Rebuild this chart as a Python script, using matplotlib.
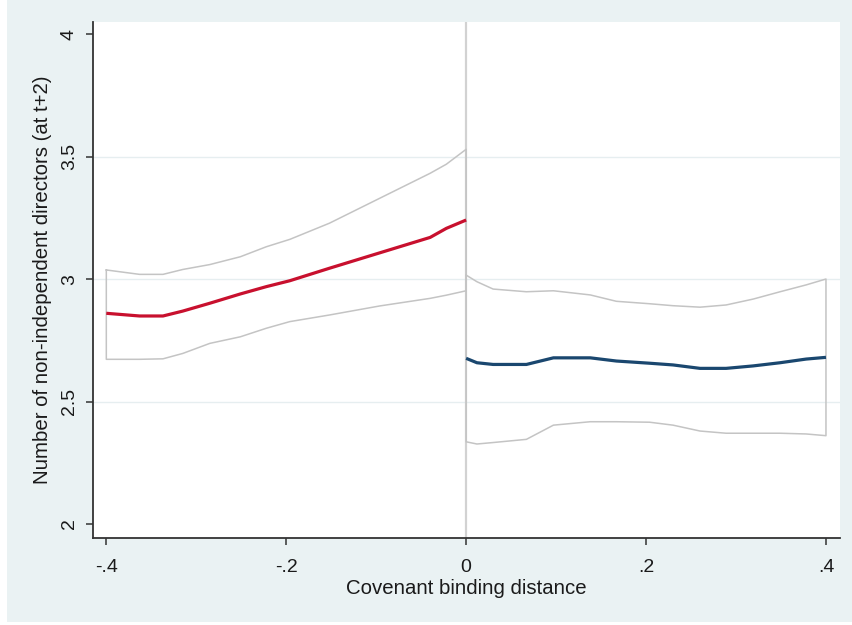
import matplotlib
matplotlib.use("Agg")
import matplotlib.pyplot as plt
from matplotlib.patches import Rectangle

plt.rcParams['font.family'] = ['Liberation Sans', 'DejaVu Sans']

# Left of cutoff: local fit with 95% band
left_x = [-0.4, -0.363, -0.337, -0.315, -0.285, -0.251, -0.222, -0.196,
          -0.152, -0.096, -0.040, -0.022, 0.0]
left_fit = [2.861, 2.850, 2.850, 2.870, 2.902, 2.940, 2.970, 2.994,
            3.045, 3.108, 3.171, 3.208, 3.242]
left_hi = [3.038, 3.020, 3.020, 3.040, 3.060, 3.092, 3.133, 3.163,
           3.229, 3.331, 3.433, 3.470, 3.531]
left_lo = [2.673, 2.673, 2.675, 2.697, 2.738, 2.765, 2.800, 2.827,
           2.854, 2.891, 2.922, 2.935, 2.953]

# Right of cutoff
right_x = [0.0, 0.012, 0.030, 0.067, 0.097, 0.138, 0.167, 0.204,
           0.230, 0.260, 0.289, 0.319, 0.349, 0.378, 0.4]
right_fit = [2.677, 2.659, 2.652, 2.652, 2.679, 2.679, 2.666, 2.657,
             2.650, 2.636, 2.636, 2.646, 2.659, 2.674, 2.681]
right_hi = [3.017, 2.990, 2.960, 2.949, 2.953, 2.936, 2.910, 2.900,
            2.892, 2.886, 2.895, 2.919, 2.949, 2.977, 3.001]
right_lo = [2.336, 2.327, 2.333, 2.346, 2.404, 2.418, 2.418, 2.416,
            2.404, 2.380, 2.371, 2.371, 2.371, 2.368, 2.361]

x_ticks = [-0.4, -0.2, 0.0, 0.2, 0.4]
x_labels = ['-.4', '-.2', '0', '.2', '.4']
y_ticks = [2, 2.5, 3, 3.5, 4]
y_labels = ['2', '2.5', '3', '3.5', '4']

bg = '#EAF2F3'
band_col = '#C4C4C4'

fig = plt.figure(figsize=(8.53, 6.25), dpi=100, facecolor='white')
fig.patches.append(Rectangle((7 / 853, 3 / 625), 846 / 853, 622 / 625,
                             transform=fig.transFigure, facecolor=bg,
                             edgecolor='none', zorder=-5))

ax = fig.add_axes([93 / 853, 1 - 538 / 625, 747 / 853, 516 / 625])
ax.set_zorder(1)
ax.set_facecolor('white')

ax.set_xlim(-0.4148, 0.4156)
ax.set_ylim(1.943, 4.051)

for yv in [2.5, 3, 3.5]:
    ax.axhline(yv, color='#E6EEF0', lw=1.0, zorder=1)
ax.axvline(0, color='#D2D2D2', lw=1.6, zorder=2)

def band(xs, lo, hi):
    px = list(xs) + list(xs[::-1]) + [xs[0]]
    py = list(hi) + list(lo[::-1]) + [hi[0]]
    ax.plot(px, py, color=band_col, lw=1.1, zorder=3)

band(left_x, left_lo, left_hi)
band(right_x, right_lo, right_hi)

ax.plot(left_x, left_fit, color='#C8102E', lw=2.3, zorder=4,
        solid_capstyle='butt')
ax.plot(right_x, right_fit, color='#1A476F', lw=2.3, zorder=4,
        solid_capstyle='butt')

ax.set_xticks(x_ticks)
ax.set_xticklabels(x_labels)
ax.set_yticks(y_ticks)
ax.set_yticklabels(y_labels, rotation=90, va='center')

for s in ['top', 'right']:
    ax.spines[s].set_visible(False)
for s in ['left', 'bottom']:
    ax.spines[s].set_color('#333333')
    ax.spines[s].set_linewidth(1.3)

ax.tick_params(axis='both', direction='out', length=5, width=1.1,
               color='#333333', labelsize=14, labelcolor='#1a1a1a')
ax.tick_params(axis='x', pad=10)
ax.tick_params(axis='y', pad=6)

ax.set_xlabel('Covenant binding distance', fontsize=14.7, color='#1a1a1a',
              labelpad=2)
ax.set_ylabel('Number of non-independent directors (at t+2)', fontsize=14.7,
              color='#1a1a1a', labelpad=6)

fig.savefig('out.png', dpi=100, facecolor='white')
